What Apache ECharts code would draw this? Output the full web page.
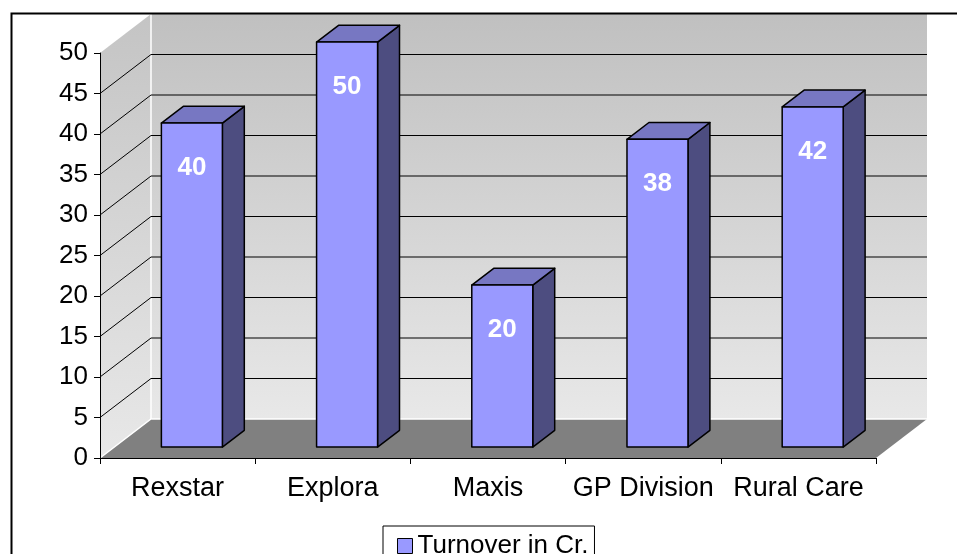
<!DOCTYPE html>
<html>
<head>
<meta charset="utf-8">
<script src="https://cdn.jsdelivr.net/npm/echarts@6/dist/echarts.min.js"></script>
<style>
  html, body { margin: 0; padding: 0; background: #fff; }
  #chart { width: 957px; height: 554px; }
</style>
</head>
<body>
<div id="chart"></div>
<script>
const categories = ['Rexstar', 'Explora', 'Maxis', 'GP Division', 'Rural Care'];
const turnover = [40, 50, 20, 38, 42];
const seriesName = 'Turnover in Cr.';
const yMin = 0, yMax = 50, yStep = 5;

// 3D projection parameters (pixels)
const DX = 51, DY = -39;      // full depth offset
const F1 = 0.28, F2 = 0.71;   // bar depth span fraction
const BAR_W = 0.393;          // bar width as fraction of category band
const FONT = 'Liberation Sans, Arial, sans-serif';

const chart = echarts.init(document.getElementById('chart'), null, { renderer: 'canvas' });

function renderBackground(params, api) {
  const cs = params.coordSys;
  const x0 = cs.x, x1 = cs.x + cs.width;
  const yb = api.coord([0, yMin])[1];
  const yt = api.coord([0, yMax])[1];
  const wallGrad = new echarts.graphic.LinearGradient(0, 0, 0, 1, [
    { offset: 0, color: '#c0c0c0' },
    { offset: 1, color: '#e8e8e8' }
  ]);
  const children = [];
  // back wall
  children.push({
    type: 'polygon',
    shape: { points: [[x0 + DX, yt + DY], [x1 + DX, yt + DY], [x1 + DX, yb + DY], [x0 + DX, yb + DY]] },
    style: { fill: wallGrad, stroke: null }
  });
  // side wall
  children.push({
    type: 'polygon',
    shape: { points: [[x0, yt], [x0 + DX, yt + DY], [x0 + DX, yb + DY], [x0, yb]] },
    style: { fill: new echarts.graphic.LinearGradient(0, 0, 0, 1, [
      { offset: 0, color: '#c4c4c4' },
      { offset: 1, color: '#e8e8e8' }
    ]), stroke: null }
  });
  // floor
  children.push({
    type: 'polygon',
    shape: { points: [[x0, yb], [x1, yb], [x1 + DX, yb + DY], [x0 + DX, yb + DY]] },
    style: { fill: '#808080', stroke: null }
  });
  // white edges
  children.push({
    type: 'polyline',
    shape: { points: [[x0, yb], [x0 + DX, yb + DY], [x1 + DX, yb + DY]] },
    style: { stroke: '#ffffff', lineWidth: 1.5, fill: null }
  });
  children.push({
    type: 'line',
    shape: { x1: x0 + DX, y1: yt + DY, x2: x0 + DX, y2: yb + DY },
    style: { stroke: '#ffffff', lineWidth: 1.5 }
  });
  // gridlines
  for (let v = yMin + yStep; v < yMax; v += yStep) {
    const y = api.coord([0, v])[1];
    children.push({
      type: 'polyline',
      shape: { points: [[x0, y], [x0 + DX, y + DY], [x1 + DX, y + DY]] },
      style: { stroke: '#000', lineWidth: 1, fill: null }
    });
  }
  return { type: 'group', children: children };
}

function renderBar(params, api) {
  const idx = api.value(0);
  const val = api.value(1);
  const top = api.coord([idx, val]);
  const base = api.coord([idx, 0]);
  const band = api.size([1, 0])[0];
  const w = band * BAR_W;
  const fx = top[0] - w / 2 + F1 * DX;
  const fyT = top[1] + F1 * DY;
  const fyB = base[1] + F1 * DY;
  const ddx = (F2 - F1) * DX, ddy = (F2 - F1) * DY;
  const line = { stroke: '#000', lineWidth: 1.5, lineJoin: 'round' };
  return {
    type: 'group',
    children: [
      {
        type: 'polygon',
        shape: { points: [[fx + w, fyT], [fx + w + ddx, fyT + ddy], [fx + w + ddx, fyB + ddy], [fx + w, fyB]] },
        style: Object.assign({ fill: '#4d4d80' }, line)
      },
      {
        type: 'polygon',
        shape: { points: [[fx, fyT], [fx + w, fyT], [fx + w + ddx, fyT + ddy], [fx + ddx, fyT + ddy]] },
        style: Object.assign({ fill: '#7777c2' }, line)
      },
      {
        type: 'rect',
        shape: { x: fx, y: fyT, width: w, height: fyB - fyT },
        style: Object.assign({ fill: '#9999ff' }, line)
      },
      {
        type: 'text',
        x: fx + w / 2,
        y: fyT + 45,
        style: {
          text: String(val),
          fill: '#ffffff',
          font: 'bold 26px ' + FONT,
          align: 'center',
          verticalAlign: 'middle'
        }
      }
    ]
  };
}

const option = {
  animation: false,
  textStyle: { fontFamily: FONT },
  graphic: [
    {
      type: 'rect',
      left: 9, top: 11,
      shape: { width: 980, height: 600 },
      style: { fill: null, stroke: '#000', lineWidth: 2 },
      z: 100
    }
  ],
  legend: {
    data: [{ name: seriesName, icon: 'rect' }],
    left: 383,
    top: 526,
    borderColor: '#000',
    borderWidth: 1,
    padding: [7, 6, 12, 14],
    itemWidth: 15,
    itemHeight: 15,
    itemGap: 5,
    itemStyle: { borderColor: '#000', borderWidth: 1 },
    textStyle: { fontSize: 26, color: '#000', fontFamily: FONT, padding: [0, 0, 0, 0] }
  },
  grid: { left: 100, right: 81, top: 53, bottom: 96, containLabel: false },
  xAxis: {
    type: 'category',
    data: categories,
    boundaryGap: true,
    axisLine: { show: true, lineStyle: { color: '#000', width: 1 } },
    axisTick: { show: true, length: 6, alignWithLabel: false, lineStyle: { color: '#000' } },
    axisLabel: { fontSize: 27, color: '#000', margin: 17, fontFamily: FONT, interval: 0 },
    splitLine: { show: false },
    z: 10
  },
  yAxis: {
    type: 'value',
    min: yMin, max: yMax, interval: yStep,
    axisLine: { show: true, lineStyle: { color: '#000', width: 1 } },
    axisTick: { show: true, length: 6, lineStyle: { color: '#000' } },
    axisLabel: { fontSize: 26, color: '#000', margin: 12, fontFamily: FONT },
    splitLine: { show: false },
    z: 10
  },
  series: [
    {
      name: 'background',
      type: 'custom',
      renderItem: renderBackground,
      data: [[0, 0]],
      silent: true,
      clip: false,
      z: 1
    },
    {
      name: seriesName,
      type: 'custom',
      renderItem: renderBar,
      data: turnover.map((v, i) => [i, v]),
      itemStyle: { color: '#9999ff', borderColor: '#000', borderWidth: 1 },
      encode: { x: 0, y: 1 },
      clip: false,
      z: 5
    }
  ]
};
chart.setOption(option);
</script>
</body>
</html>
